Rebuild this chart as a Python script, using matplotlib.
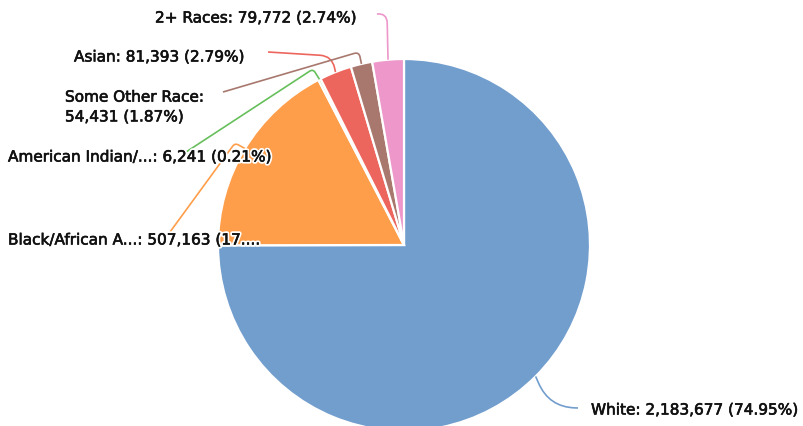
import matplotlib
matplotlib.use("Agg")
import matplotlib.pyplot as plt
from matplotlib.path import Path
from matplotlib.patches import PathPatch
import matplotlib.patheffects as pe
import numpy as np

# ---- data ----
categories = ["White", "Black/African American", "American Indian/Alaska Native",
              "Asian", "Some Other Race", "2+ Races"]
values = [2183677, 507163, 6241, 81393, 54431, 79772]
display_labels = ["White: 2,183,677 (74.95%)",
                  "Black/African A...: 507,163 (17....",
                  "American Indian/...: 6,241 (0.21%)",
                  "Asian: 81,393 (2.79%)",
                  "Some Other Race:\n54,431 (1.87%)",
                  "2+ Races: 79,772 (2.74%)"]
colors = ["#729ECE", "#FF9E4A", "#67BF5C", "#ED665D", "#A8786E", "#ED97CA"]

# ---- layout (pixel coordinates, y from top) ----
W, H = 804, 427
CX, CY, R = 404, 246, 186
# text x, text y, elbow x, elbow y, line end x, line end y, corner radius
layout = [
    (591, 411, 549, 408, 578, 409, 26),
    (8, 241, 235, 144, 170, 233, 4),
    (8, 158, 313, 70, 183, 155, 4),
    (74, 58, 332, 57, 268, 53, 12),
    (65, 108, 359, 53, 223, 93, 5),
    (155, 19, 387, 14, 377, 15, 10),
]


def py(y):
    return H - y


fig = plt.figure(figsize=(W / 100, H / 100), dpi=100)
ax = fig.add_axes([0, 0, 1, 1])
wedges, _ = ax.pie(values, colors=colors, startangle=90, counterclock=False,
                   center=(CX, py(CY)), radius=R, frame=True,
                   wedgeprops=dict(edgecolor="white", linewidth=1.6))
ax.set_xlim(0, W)
ax.set_ylim(0, H)
ax.set_aspect("equal")
ax.axis("off")

txt_col = "#111111"
halo = [pe.Stroke(linewidth=3, foreground="white"),
        pe.Stroke(linewidth=0.45, foreground=txt_col),
        pe.Normal()]

for w, lab, col, lay in zip(wedges, display_labels, colors, layout):
    tx, ty, ex, ey, lx, ly, rc = lay
    mid = np.deg2rad((w.theta1 + w.theta2) / 2)
    start = np.array([CX + R * np.cos(mid), py(CY) + R * np.sin(mid)])
    elbow = np.array([ex, py(ey)], dtype=float)
    end = np.array([lx, py(ly)], dtype=float)
    d1 = elbow - start
    d2 = end - elbow
    r1 = min(rc, np.linalg.norm(d1))
    r2 = min(rc, np.linalg.norm(d2))
    p1 = elbow - d1 / np.linalg.norm(d1) * r1
    p2 = elbow + d2 / np.linalg.norm(d2) * r2
    verts = [start, p1, elbow, p2, end]
    codes = [Path.MOVETO, Path.LINETO, Path.CURVE3, Path.CURVE3, Path.LINETO]
    ax.add_patch(PathPatch(Path(verts, codes), facecolor="none", edgecolor=col,
                           linewidth=1.2, zorder=3))
    ax.text(tx, py(ty), lab, ha="left", va="center", fontsize=11,
            family="DejaVu Sans", color=txt_col, linespacing=1.4,
            path_effects=halo, zorder=4)

fig.savefig("out.png", dpi=100)
